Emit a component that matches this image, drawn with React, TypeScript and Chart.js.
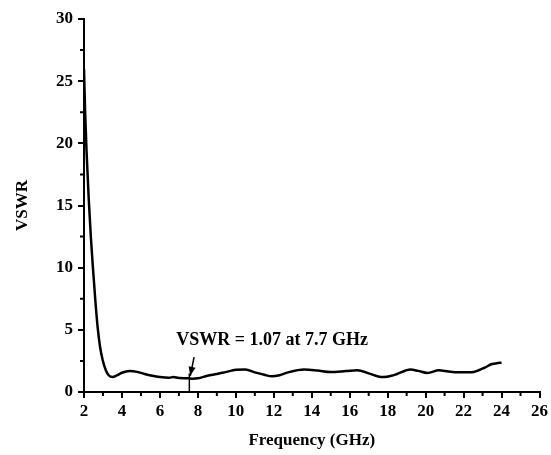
import React, { useEffect, useRef } from 'react';
import { Chart, registerables } from 'chart.js';

Chart.register(...registerables);

const freqGHz = [
  2.0, 2.06, 2.13, 2.25, 2.36, 2.47, 2.6, 2.72, 2.85, 2.98, 3.15, 3.3, 3.5, 3.75, 4.0, 4.4, 4.8,
  5.2, 5.6, 6.0, 6.5, 6.7, 7.0, 7.5, 7.7, 8.0, 8.5, 9.0, 9.5, 10.0, 10.5, 11.0, 11.5, 11.9,
  12.3, 12.8, 13.6, 14.3, 15.0, 15.8, 16.4, 17.0, 17.5, 17.8, 18.2, 18.5, 19.2, 19.6, 20.1,
  20.7, 21.2, 21.7, 22.4, 22.8, 23.1, 23.5, 23.8, 24.0,
];
const vswrValues = [
  26, 22.5, 19.5, 15.5, 12.5, 10, 7.3, 5.2, 3.6, 2.6, 1.75, 1.35, 1.2, 1.35, 1.55, 1.68, 1.62,
  1.45, 1.3, 1.2, 1.15, 1.2, 1.12, 1.1, 1.07, 1.1, 1.3, 1.45, 1.62, 1.78, 1.8, 1.58, 1.38, 1.26,
  1.35, 1.6, 1.8, 1.72, 1.6, 1.68, 1.75, 1.5, 1.25, 1.2, 1.3, 1.45, 1.8, 1.7, 1.53,
  1.75, 1.65, 1.58, 1.58, 1.75, 1.95, 2.25, 2.33, 2.35,
];
const xMajorTicks = [2, 4, 6, 8, 10, 12, 14, 16, 18, 20, 22, 24, 26];
const xMinorTicks = [3, 5, 7, 9, 11, 13, 15, 17, 19, 21, 23, 25];
const yMajorTicks = [0, 5, 10, 15, 20, 25, 30];
const yMinorTicks = [2.5, 7.5, 12.5, 17.5, 22.5, 27.5];

const annotationText = 'VSWR = 1.07 at 7.7 GHz';
const annotationAt = { x: 6.86, y: 3.75 };
const markerX = 7.55;
const markerTop = 1.5;
const arrowFrom = { x: 7.8, y: 2.8 };
const arrowTo = { x: 7.6, y: 1.3 };

const FONT = '"Liberation Serif", "Times New Roman", serif';

const decorPlugin = {
  id: 'decor',
  afterDraw(chart: any) {
    const { ctx, scales, chartArea } = chart;
    const xs = scales.x;
    const ys = scales.y;
    ctx.save();
    ctx.strokeStyle = '#000';
    ctx.fillStyle = '#000';
    ctx.lineWidth = 2;
    ctx.beginPath();
    for (const v of xMinorTicks) {
      const px = xs.getPixelForValue(v);
      ctx.moveTo(px, chartArea.bottom);
      ctx.lineTo(px, chartArea.bottom + 4);
    }
    for (const v of yMinorTicks) {
      const py = ys.getPixelForValue(v);
      ctx.moveTo(chartArea.left, py);
      ctx.lineTo(chartArea.left - 4, py);
    }
    ctx.stroke();
    ctx.lineWidth = 1.5;
    ctx.beginPath();
    ctx.moveTo(xs.getPixelForValue(markerX), ys.getPixelForValue(0));
    ctx.lineTo(xs.getPixelForValue(markerX), ys.getPixelForValue(markerTop));
    ctx.stroke();
    const x1 = xs.getPixelForValue(arrowFrom.x);
    const y1 = ys.getPixelForValue(arrowFrom.y);
    const x2 = xs.getPixelForValue(arrowTo.x);
    const y2 = ys.getPixelForValue(arrowTo.y);
    ctx.beginPath();
    ctx.moveTo(x1, y1);
    ctx.lineTo(x2, y2);
    ctx.stroke();
    const ang = Math.atan2(y2 - y1, x2 - x1);
    const len = 9;
    const w = 3.5;
    ctx.beginPath();
    ctx.moveTo(x2, y2);
    ctx.lineTo(
      x2 - len * Math.cos(ang) + w * Math.sin(ang),
      y2 - len * Math.sin(ang) - w * Math.cos(ang)
    );
    ctx.lineTo(
      x2 - len * Math.cos(ang) - w * Math.sin(ang),
      y2 - len * Math.sin(ang) + w * Math.cos(ang)
    );
    ctx.closePath();
    ctx.fill();
    ctx.font = `bold 18px ${FONT}`;
    ctx.textAlign = 'left';
    ctx.textBaseline = 'alphabetic';
    ctx.fillText(annotationText, xs.getPixelForValue(annotationAt.x), ys.getPixelForValue(annotationAt.y));
    ctx.restore();
  },
};

export default function App() {
  const ref = useRef<HTMLCanvasElement | null>(null);
  useEffect(() => {
    if (!ref.current) return;
    const data = freqGHz.map((f, i) => ({ x: f, y: vswrValues[i] }));
    const tickFont = { family: FONT, size: 17, weight: 'bold' as const };
    const chart = new Chart(ref.current, {
      type: 'line',
      data: {
        datasets: [
          {
            data,
            borderColor: '#000',
            borderWidth: 2.5,
            pointRadius: 0,
            cubicInterpolationMode: 'monotone',
            fill: false,
          },
        ],
      },
      plugins: [decorPlugin],
      options: {
        animation: false,
        responsive: false,
        devicePixelRatio: 1,
        layout: { padding: { top: 19, right: 8, left: 0, bottom: 0 } },
        plugins: { legend: { display: false }, tooltip: { enabled: false } },
        scales: {
          x: {
            type: 'linear',
            min: 2,
            max: 26,
            afterBuildTicks: (s: any) => {
              s.ticks = xMajorTicks.map((v) => ({ value: v }));
            },
            afterFit: (s: any) => {
              s.height = 63;
            },
            ticks: { font: tickFont, color: '#000', padding: 3, maxRotation: 0, autoSkip: false },
            grid: { drawOnChartArea: false, drawTicks: true, tickLength: 6, color: '#000', lineWidth: 2 },
            border: { display: true, color: '#000', width: 2 },
            title: {
              display: true,
              text: 'Frequency (GHz)',
              font: tickFont,
              color: '#000',
              padding: { top: 0, bottom: 4 },
            },
          },
          y: {
            type: 'linear',
            min: 0,
            max: 30,
            afterBuildTicks: (s: any) => {
              s.ticks = yMajorTicks.map((v) => ({ value: v }));
            },
            afterFit: (s: any) => {
              s.width = 84;
            },
            ticks: { font: tickFont, color: '#000', padding: 5 },
            grid: { drawOnChartArea: false, drawTicks: true, tickLength: 6, color: '#000', lineWidth: 2 },
            border: { display: true, color: '#000', width: 2 },
            title: {
              display: true,
              text: 'VSWR',
              font: tickFont,
              color: '#000',
              padding: { top: 12, bottom: 0 },
            },
          },
        },
      },
    } as any);
    return () => chart.destroy();
  }, []);
  return (
    <div style={{ position: 'absolute', left: 0, top: 0, width: 551, height: 455, background: '#fff' }}>
      <canvas ref={ref} width={551} height={455} />
    </div>
  );
}
